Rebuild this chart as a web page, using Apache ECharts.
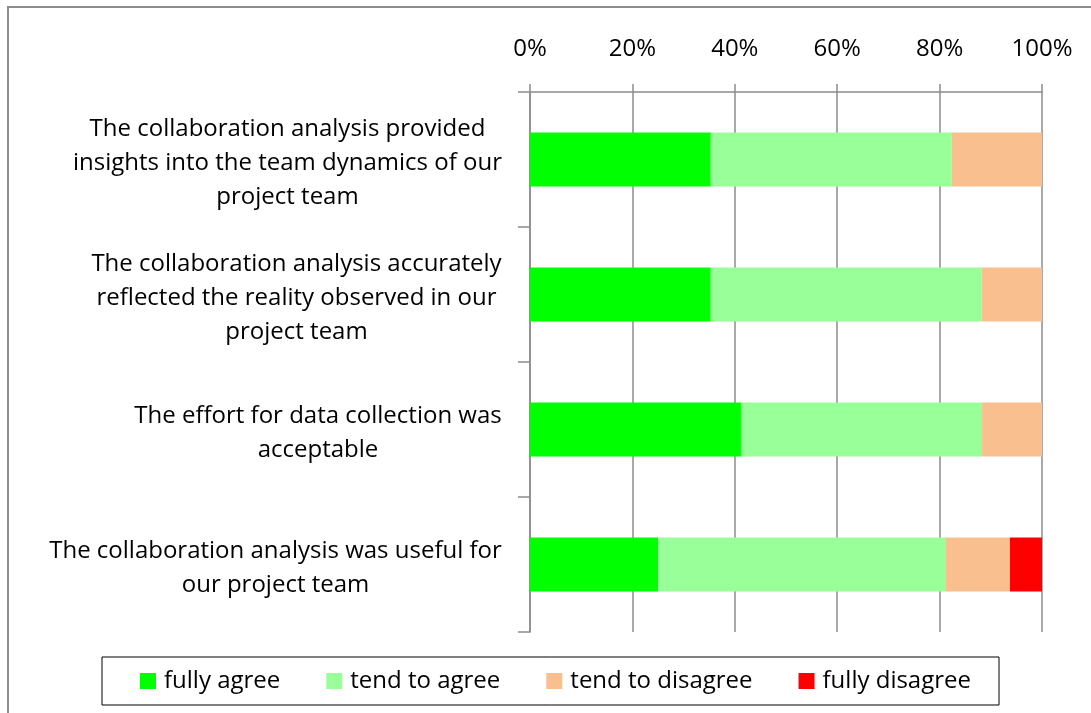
<!DOCTYPE html>
<html>
<head>
<meta charset="utf-8">
<script src="https://cdn.jsdelivr.net/npm/echarts@6/dist/echarts.min.js"></script>
<style>
  html, body { margin: 0; padding: 0; background: #fff; }
  #charts { width: 1091px; height: 713px; }
</style>
</head>
<body>
<div id="charts"></div>
<script>
// statements, top to bottom as drawn
var statements = [
    'The collaboration analysis provided\ninsights into the team dynamics of our\nproject team',
    'The collaboration analysis accurately\nreflected the reality observed in our\nproject team',
    'The effort for data collection was\nacceptable',
    'The collaboration analysis was useful for\nour project team'
];
var fullyAgree    = [35.3, 35.3, 41.2, 25.0];
var tendAgree     = [47.1, 52.9, 47.1, 56.25];
var tendDisagree  = [17.6, 11.8, 11.8, 12.5];
var fullyDisagree = [0, 0, 0, 6.25];
var xTicks = [0, 20, 40, 60, 80, 100];

var fontName = '"Open Sans", Lato, sans-serif';
var labelSize = 24;
var myChart = echarts.init(document.getElementById('charts'));

// each label block is right-aligned, its lines centred inside the block
var ctx = document.createElement('canvas').getContext('2d');
ctx.font = labelSize + 'px ' + fontName;
var rich = {};
statements.forEach(function (s, i) {
    var w = 0;
    s.split('\n').forEach(function (line) {
        w = Math.max(w, ctx.measureText(line).width);
    });
    rich['a' + i] = {
        width: Math.ceil(w) + 2,
        align: 'center',
        fontSize: labelSize,
        lineHeight: 34,
        color: '#000',
        fontFamily: fontName
    };
});

function bar(name, data, color) {
    return {
        name: name,
        type: 'bar',
        stack: 'total',
        barWidth: 54,
        itemStyle: { color: color },
        data: data
    };
}

var option = {
    backgroundColor: '#fff',
    textStyle: { fontFamily: fontName },
    animation: false,
    graphic: [{
        type: 'rect',
        shape: { x: 8, y: 7, width: 1100, height: 720 },
        style: { fill: 'none', stroke: '#8c8c8c', lineWidth: 2 }
    }],
    grid: { left: 530, right: 49, top: 92, bottom: 81 },
    xAxis: {
        type: 'value',
        position: 'top',
        min: xTicks[0],
        max: xTicks[xTicks.length - 1],
        interval: 20,
        axisLine: { show: true, lineStyle: { color: '#8c8c8c', width: 1.5 } },
        axisTick: { show: true, length: 8, lineStyle: { color: '#8c8c8c', width: 1.5 } },
        splitLine: { show: true, lineStyle: { color: '#8c8c8c', width: 1.5 } },
        axisLabel: {
            formatter: '{value}%',
            color: '#000',
            fontSize: 24,
            margin: 31,
            fontFamily: fontName
        }
    },
    yAxis: {
        type: 'category',
        inverse: true,
        data: statements,
        axisLine: { show: true, lineStyle: { color: '#8c8c8c', width: 1.5 } },
        axisTick: { show: true, length: 12, lineStyle: { color: '#8c8c8c', width: 1.5 } },
        axisLabel: {
            margin: 27,
            padding: [7, 0, 0, 0],
            formatter: function (v, idx) { return '{a' + idx + '|' + v + '}'; },
            rich: rich
        }
    },
    legend: {
        left: 102,
        top: 657,
        padding: [12, 28, 12, 38],
        borderColor: '#000',
        borderWidth: 1,
        itemGap: 46,
        itemWidth: 16,
        itemHeight: 16,
        icon: 'rect',
        textStyle: { fontSize: 24, color: '#000', fontFamily: fontName, padding: [0, 0, 0, 3] },
        data: ['fully agree', 'tend to agree', 'tend to disagree', 'fully disagree']
    },
    series: [
        bar('fully agree', fullyAgree, '#00ff00'),
        bar('tend to agree', tendAgree, '#99ff99'),
        bar('tend to disagree', tendDisagree, '#f9bf8f'),
        bar('fully disagree', fullyDisagree, '#ff0000')
    ]
};
myChart.setOption(option);
</script>
</body>
</html>
